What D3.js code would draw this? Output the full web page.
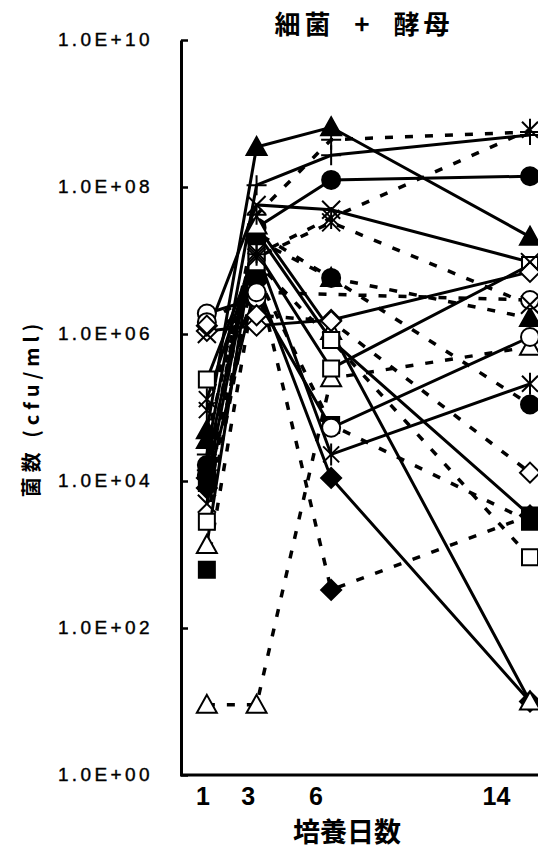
<!DOCTYPE html>
<html>
<head>
<meta charset="utf-8">
<script src="https://cdn.jsdelivr.net/npm/d3@7"></script>
<style>
body{margin:0;background:#fff;overflow:hidden;}
</style>
</head>
<body>
<div id="container"></div>
<script>
// days of culture
let days = [1, 3, 6, 14];
let dayLabels = ["1", "3", "6", "14"];
let yTicks = [1e0, 1e2, 1e4, 1e6, 1e8, 1e10];
let yTickLabels = ["1.0E+00", "1.0E+02", "1.0E+04", "1.0E+06", "1.0E+08", "1.0E+10"];

// marker of each series, and whether its line is dashed
let markers = ["triUp", "triUp", "triOpen", "triOpen", "dot", "dot", "ring", "ring",
               "sq", "sq", "sqOpen", "sqOpen", "dia", "dia", "diaOpen", "diaOpen",
               "cross", "cross", "plus", "plus", "star", "star"];
let dashed = [false, true, false, true, false, true, false, true,
              false, true, false, true, false, true, false, true,
              false, true, false, true, false, true];

// cfu/ml on day 1, 3, 6, 14 (null = not measured)
let counts = [
  [4.9e4, 3.5e8, 6.5e8, 2.1e7],
  [3.6e4, 2.4e7, 5.8e6, 1.65e6],
  [1.35e3, 3.0e7, 1.1e6, 10],
  [9, 9, 2.5e5, 6.7e5],
  [1.65e4, 2.8e7, 1.25e8, 1.4e8],
  [1.2e4, 1.9e7, 5.8e6, 1.1e5],
  [1.9e6, 3.1e6, 5.3e4, 9.1e5],
  [1.45e6, 3.7e6, null, 2.9e6],
  [9.4e3, 2.4e7, 8.3e5, 3.4e3],
  [620, 6.4e6, 5.8e4, 2.8e3],
  [2.4e5, 1.3e7, 3.4e5, 8.7e6],
  [2.8e3, 9.5e6, 8.3e5, 920],
  [8.0e3, 5.1e6, 1.1e4, 10],
  [1.1e4, 6.4e6, 330, 3.4e3],
  [1.1e6, 1.3e6, 1.55e6, 7.0e6],
  [1.3e6, 1.8e6, 1.5e6, 1.3e4],
  [1.0e6, 5.7e7, 4.9e7, 9.5e6],
  [4.9e3, 1.1e7, 3.3e7, 2.5e6],
  [2.3e4, 1.06e8, 2.7e8, 5.1e8],
  [1.4e4, 4.2e7, 4.4e8, 5.6e8],
  [1.3e5, 1.3e7, 2.3e4, 2.1e5],
  [9.2e4, 1.2e7, 3.8e7, 6.0e8]
];

let viz = d3.select("#container")
  .append("svg")
    .attr("width", 538)
    .attr("height", 850)
;

let x = d3.scaleLinear().domain([0, 14]).range([182, 530]);
let xLabel = d3.scaleLinear().domain([0, 14]).range([180, 496]);
let y = d3.scaleLog().domain([1, 1e10]).range([775, 40]);

//Title
viz.append("text")
    .text("細菌  +  酵母")
    .attr("font-family", "Noto Sans CJK JP")
    .attr("font-weight", "bold")
    .attr("font-size", 26)
    .attr("letter-spacing", 4)
    .attr("xml:space", "preserve")
    .style("white-space", "pre")
    .attr("text-anchor", "middle")
    .attr("x", 364)
    .attr("y", 34)
;

//Y axis
let yAxis = d3.axisRight(y)
    .tickValues(yTicks)
    .tickFormat((d, i) => "")
    .tickSize(7)
    .tickSizeOuter(0);
viz.append("g")
    .attr("transform", "translate(181,0)")
    .call(yAxis)
    .call(g => g.selectAll("line").attr("stroke-width", 2.5))
    .call(g => g.select(".domain").attr("stroke-width", 3))
;

viz.selectAll(".ylab")
  .data(yTicks)
  .enter()
  .append("text")
    .attr("class", "ylab")
    .text((d, i) => yTickLabels[i])
    .attr("font-family", "Liberation Sans")
    .attr("font-size", 19)
    .attr("letter-spacing", 3.4)
    .attr("stroke", "black")
    .attr("stroke-width", 0.4)
    .attr("text-anchor", "end")
    .attr("x", 153)
    .attr("y", d => y(d) + 6)
;

//X axis
viz.append("line")
    .attr("x1", 180)
    .attr("y1", y(1))
    .attr("x2", 540)
    .attr("y2", y(1))
    .attr("stroke", "black")
    .attr("stroke-width", 3)
;

let xAxis = d3.axisBottom(xLabel)
    .tickValues(days)
    .tickFormat((d, i) => dayLabels[i])
    .tickSize(0)
    .tickPadding(12);
viz.append("g")
    .attr("transform", "translate(0," + y(1) + ")")
    .call(xAxis)
    .call(g => g.select(".domain").remove())
    .call(g => g.selectAll("text")
        .attr("font-family", "Liberation Sans")
        .attr("font-weight", "bold")
        .attr("font-size", 25)
        .attr("fill", "black"))
;

viz.append("text")
    .text("培養日数")
    .attr("font-family", "Noto Sans CJK JP")
    .attr("font-weight", "bold")
    .attr("font-size", 27)
    .attr("text-anchor", "middle")
    .attr("x", 347)
    .attr("y", 842)
;

viz.append("text")
    .text("菌数 (cfu/ml)")
    .attr("font-family", "Noto Sans CJK JP")
    .attr("font-weight", "bold")
    .attr("font-size", 20)
    .attr("letter-spacing", 5)
    .attr("text-anchor", "middle")
    .attr("transform", "translate(39,408) rotate(-90)")
;

//Lines
let line = d3.line()
    .x(d => x(d.day))
    .y(d => y(d.v));

counts.forEach((vals, i) => {
  let pts = vals.map((v, j) => ({day: days[j], v: v})).filter(d => d.v != null);
  viz.append("path")
      .datum(pts)
      .attr("d", line)
      .attr("fill", "none")
      .attr("stroke", "black")
      .attr("stroke-width", dashed[i] ? 3.5 : 3)
      .attr("stroke-dasharray", dashed[i] ? "8,12" : null)
  ;
});

//Markers
let shapes = {
  triUp: "M0,-10L10,8L-10,8Z",
  triOpen: "M0,-10L10,8L-10,8Z",
  sq: "M-8,-8L8,-8L8,8L-8,8Z",
  sqOpen: "M-8,-8L8,-8L8,8L-8,8Z",
  dia: "M0,-10L10,0L0,10L-10,0Z",
  diaOpen: "M0,-10L10,0L0,10L-10,0Z",
  cross: "M-9,-9L9,9M-9,9L9,-9",
  plus: "M-10,0L10,0M0,-10L0,10",
  star: "M-8,-8L8,8M-8,8L8,-8M0,-11L0,11"
};
let filled = ["triUp", "sq", "dia", "dot"];

// filled markers first so that open ones sit on top
let order = d3.range(counts.length).sort((a, b) =>
  (filled.includes(markers[b]) ? 1 : 0) - (filled.includes(markers[a]) ? 1 : 0) || a - b);

order.forEach(i => {
  let m = markers[i];
  let pts = counts[i].map((v, j) => ({day: days[j], v: v})).filter(d => d.v != null);
  let g = viz.append("g");
  if (m == "dot" || m == "ring") {
    g.selectAll("circle")
      .data(pts)
      .enter()
      .append("circle")
        .attr("cx", d => x(d.day))
        .attr("cy", d => y(d.v))
        .attr("r", 9)
        .attr("fill", m == "dot" ? "black" : "white")
        .attr("stroke", "black")
        .attr("stroke-width", 2)
    ;
  } else {
    g.selectAll("path")
      .data(pts)
      .enter()
      .append("path")
        .attr("d", shapes[m])
        .attr("transform", d => "translate(" + x(d.day) + "," + y(d.v) + ")")
        .attr("fill", filled.includes(m) ? "black" : (m.endsWith("Open") ? "white" : "none"))
        .attr("stroke", "black")
        .attr("stroke-width", 2)
    ;
  }
});
</script>
</body>
</html>
